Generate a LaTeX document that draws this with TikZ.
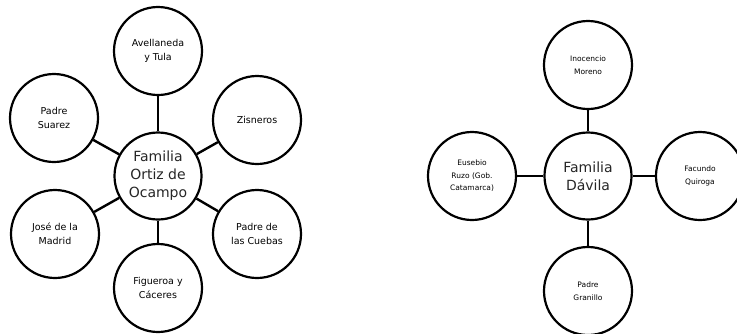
\documentclass[tikz,border=0pt]{standalone}
\usepackage{fontspec}
\setmainfont{DejaVu Sans}
\begin{document}
\begin{tikzpicture}[x=1pt,y=-1pt,
  hub/.style={circle,draw=black,line width=2.2pt,minimum size=87pt,inner sep=0pt,align=center,
    font=\fontsize{14}{18}\selectfont,text=black!85},
  leaf/.style={circle,draw=black,line width=2.2pt,minimum size=88pt,inner sep=0pt,align=center,
    font=\fontsize{9.5}{14}\selectfont},
  leafs/.style={leaf,font=\fontsize{7.5}{12.5}\selectfont},
  link/.style={line width=2.4pt,draw=black}]
\useasboundingbox (0,0) rectangle (737,333);
% left diagram
\node[hub] (ortiz) at (158,176) {Familia\\Ortiz de\\Ocampo};
\node[leaf] (avel) at (158,51) {Avellaneda\\y Tula};
\node[leaf] (suarez) at (54,118) {Padre\\Suarez};
\node[leaf] (zis) at (257,120) {Zisneros};
\node[leaf] (jose) at (55,234) {José de la\\Madrid};
\node[leaf] (cueb) at (257,234) {Padre de\\las Cuebas};
\node[leaf] (fig) at (158,288) {Figueroa y\\Cáceres};
\foreach \n in {avel,suarez,zis,jose,cueb,fig} \draw[link] (ortiz) -- (\n);
% right diagram
\node[hub] (davila) at (588,176) {Familia\\Dávila};
\node[leafs] (ino) at (588,65) {Inocencio\\Moreno};
\node[leafs] (euse) at (472,176) {Eusebio\\Ruzo (Gob.\\Catamarca)};
\node[leafs] (fac) at (700,176) {Facundo\\Quiroga};
\node[leafs] (gran) at (588,291) {Padre\\Granillo};
\foreach \n in {ino,euse,fac,gran} \draw[link] (davila) -- (\n);
\end{tikzpicture}
\end{document}
